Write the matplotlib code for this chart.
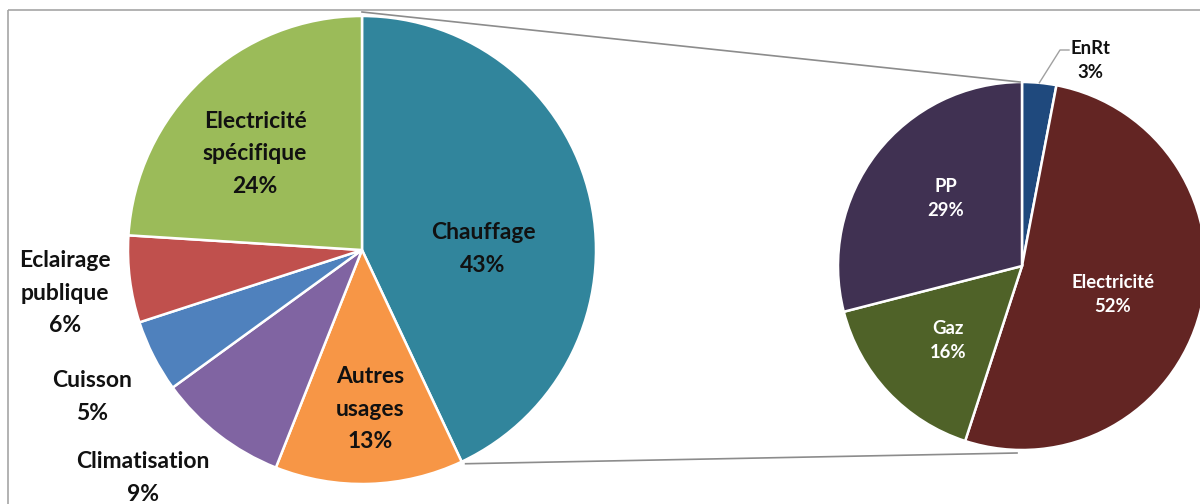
import matplotlib.pyplot as plt
from matplotlib.patches import Rectangle
import numpy as np

# Consommation par usage (camembert principal)
usages = ['Chauffage', 'Autres\nusages', 'Climatisation', 'Cuisson',
          'Eclairage\npublique', 'Electricité\nspécifique']
usage_pct = [43, 13, 9, 5, 6, 24]
usage_colors = ['#31859C', '#F79646', '#8064A2', '#4F81BD', '#C0504D', '#9BBB59']

# Détail du chauffage par énergie (second camembert)
energies = ['EnRt', 'Electricité', 'Gaz', 'PP']
energy_pct = [3, 52, 16, 29]
energy_colors = ['#1F497D', '#632523', '#4F6228', '#403152']

W, H = 1200, 504
fig = plt.figure(figsize=(W / 100, H / 100), dpi=100)
ax = fig.add_axes([0, 0, 1, 1])

# axe en pixels, y vers le bas -> sens horaire depuis le haut
c1, r1 = (362, 250), 234
c2, r2 = (1022, 266), 184
wp = dict(edgecolor='white', linewidth=1.8)

w1, _ = ax.pie(usage_pct, colors=usage_colors, center=c1, radius=r1,
               startangle=-90, counterclock=True, wedgeprops=wp, frame=True)
w2, _ = ax.pie(energy_pct, colors=energy_colors, center=c2, radius=r2,
               startangle=-90, counterclock=True, wedgeprops=wp, frame=True)

ax.set_xlim(0, W)
ax.set_ylim(H, 0)
ax.set_aspect('equal')
ax.axis('off')

# cadre
ax.add_patch(Rectangle((8, 10), W + 20, H + 20, fill=False,
                       edgecolor='#A6A6A6', linewidth=1.2, zorder=0))

font = dict(family='Lato', weight='bold', ha='center', va='center')

# étiquettes du premier camembert
pos1 = [(483, 249), (370, 409), (143, 478), (92, 397), (65, 293), (255, 154)]
for name, v, (x, y) in zip(usages, usage_pct, pos1):
    ax.text(x, y, f'{name}\n{v}%', fontsize=16.5, color='#111111',
            linespacing=1.65, **font)

# étiquettes du second camembert
pos2 = [(1090, 61), (1113, 295), (948, 340), (946, 199)]
tcol = ['#111111', 'white', 'white', 'white']
for name, v, (x, y), col in zip(energies, energy_pct, pos2, tcol):
    ax.text(x, y, f'{name}\n{v}%', fontsize=13.3, color=col,
            linespacing=1.5, **font)

# trait de rappel EnRt
a = np.deg2rad(w2[0].theta1 + w2[0].theta2) / 2
p0 = (c2[0] + r2 * np.cos(a), c2[1] + r2 * np.sin(a))
ax.plot([p0[0], 1060, 1069], [p0[1], 50, 50], color='#A0A0A0', lw=1.0)

# lignes de liaison entre les deux camemberts
a_end = np.deg2rad(w1[0].theta2)
top1 = (c1[0], c1[1] - r1 - 4)
bot1 = (c1[0] + r1 * np.cos(a_end), c1[1] + r1 * np.sin(a_end))
ax.plot([top1[0], c2[0] - 2], [top1[1], c2[1] - r2], color='#8C8C8C', lw=1.2, zorder=3)
ax.plot([bot1[0] + 4, c2[0] - 5], [bot1[1] + 2, c2[1] + r2 + 3], color='#8C8C8C', lw=1.2, zorder=3)

fig.savefig('out.png', dpi=100)
